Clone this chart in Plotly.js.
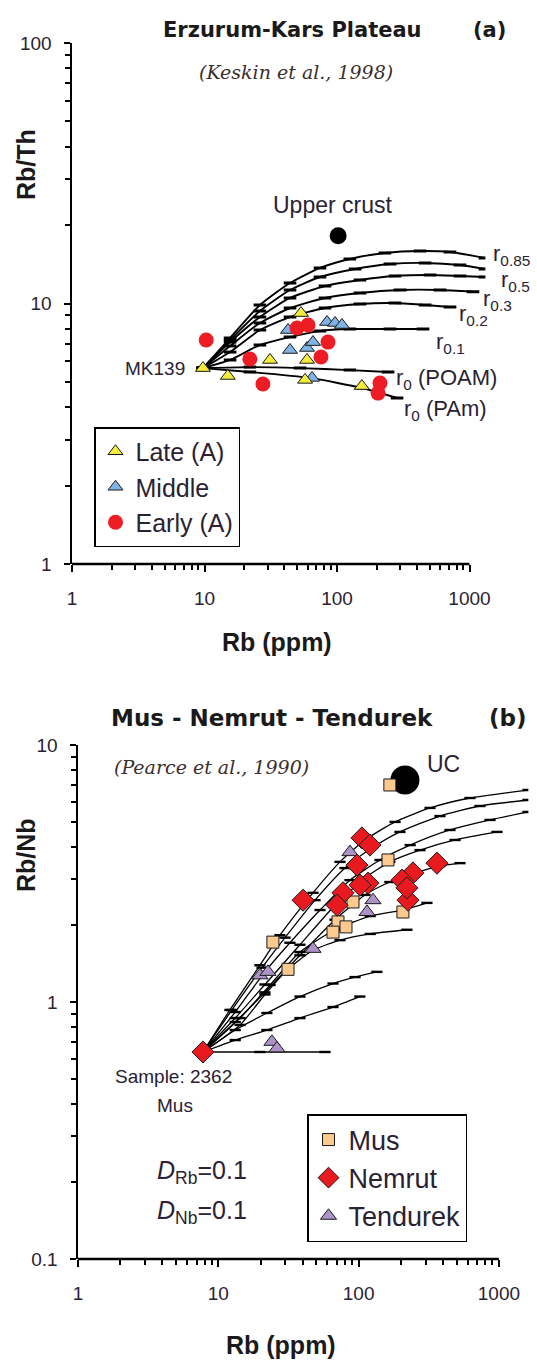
<!DOCTYPE html>
<html>
<head>
<meta charset="utf-8">
<script src="https://cdn.plot.ly/plotly-3.0.1.min.js"></script>
<style>html,body{margin:0;padding:0;background:#fff}#chart{width:537px;height:1362px}</style>
</head>
<body>
<div id="chart"></div>
<script>
// ---------- Panel (a): Erzurum-Kars Plateau (Rb vs Rb/Th) ----------
const lateRb    = [9.74, 15.0, 31.2, 53.5, 59.4, 57.4, 154];
const lateRbTh  = [5.65, 5.27, 6.07, 9.19, 6.07, 5.09, 4.82];
const middleRb   = [44.2, 59.4, 65.9, 84.1, 96.6, 109, 64.8, 42.7];
const middleRbTh = [6.63, 6.75, 7.11, 8.49, 8.42, 8.27, 5.18, 7.91];
const earlyRb   = [10.3, 22.0, 27.6, 49.9, 60.4, 85.5, 75.7, 211, 204];
const earlyRbTh = [7.24, 6.12, 4.91, 8.05, 8.27, 7.11, 6.23, 4.95, 4.53];
const upperCrustRb = [102];
const upperCrustRbTh = [18.2];

// AFC model curves from MK139
const r085Rb   = [9.74, 15.6, 26.2, 44.2, 74.4, 125, 230, 423, 713, 1309];
const r085RbTh = [5.65, 7.37, 9.87, 11.99, 13.69, 14.82, 15.63, 15.91, 15.77, 14.95];
const rMidRb   = [9.74, 15.6, 26.2, 44.2, 74.4, 137, 251, 462, 848, 1309];
const rMidRbTh = [5.65, 7.24, 9.36, 11.27, 12.64, 13.57, 14.18, 14.31, 14.05, 13.57];
const r05Rb    = [9.74, 15.6, 26.2, 44.2, 81.2, 149, 274, 504, 848, 1309];
const r05RbTh  = [5.65, 7.11, 8.87, 10.50, 11.67, 12.31, 12.75, 12.86, 12.75, 12.64];
const r03Rb    = [9.74, 15.6, 26.2, 44.2, 81.2, 149, 299, 599, 1063];
const r03RbTh  = [5.65, 6.87, 8.42, 9.61, 10.50, 10.97, 11.27, 11.27, 11.1];
const r02Rb    = [9.74, 15.6, 26.2, 44.2, 81.2, 149, 274, 462, 713];
const r02RbTh  = [5.65, 6.51, 7.91, 8.87, 9.61, 9.96, 10.04, 9.87, 9.70];
const r01Rb    = [9.74, 15.6, 26.2, 44.2, 74.4, 125, 251, 446];
const r01RbTh  = [5.65, 6.07, 6.93, 7.43, 7.84, 7.98, 7.98, 7.98];
const r0POAMRb   = [9.74, 22.0, 52.6, 125, 243];
const r0POAMRbTh = [5.65, 5.70, 5.65, 5.55, 5.46];
const r0PAmRb    = [9.74, 22.0, 62.5, 154, 284];
const r0PAmRbTh  = [5.65, 5.46, 5.18, 4.74, 4.34];

// ---------- Panel (b): Mus - Nemrut - Tendurek (Rb vs Rb/Nb) ----------
const musRb   = [167, 162, 91.2, 207, 71.3, 81.3, 65.7, 24.5, 31.4];
const musRbNb = [6.99, 3.57, 2.45, 2.24, 2.05, 1.96, 1.87, 1.71, 1.34];
const nemrutRb   = [105.7, 120.6, 97.4, 116.7, 102.3, 244, 204, 362, 225, 221, 40.2, 77.4, 70.2];
const nemrutRbNb = [4.35, 4.08, 3.41, 2.90, 2.85, 3.18, 2.98, 3.47, 2.49, 2.78, 2.49, 2.66, 2.38];
const tendurekRb   = [86.8, 126.6, 114.8, 47.3, 19.8, 22.6, 24.1, 26.2];
const tendurekRbNb = [3.83, 2.49, 2.24, 1.61, 1.27, 1.31, 0.70, 0.66];
const ucRb = [214];
const ucRbNb = [7.31];
const sampleRb = [7.78];
const sampleRbNb = [0.639];

const c1Rb   = [7.78, 12.1, 19.8, 27.5, 47.3, 73.7, 111, 182, 323, 622, 1612];
const c1RbNb = [0.639, 0.931, 1.39, 1.82, 2.66, 3.51, 4.27, 5.02, 5.69, 6.22, 6.68];
const c2Rb   = [7.78, 12.5, 20.5, 29.9, 48.9, 80.0, 125, 197, 380, 733, 1612];
const c2RbNb = [0.639, 0.931, 1.36, 1.78, 2.49, 3.32, 3.98, 4.59, 5.29, 5.79, 6.11];
const c3Rb   = [7.78, 13.2, 21.5, 32.4, 53.1, 86.8, 142, 233, 448, 864, 1612];
const c3RbNb = [0.639, 0.914, 1.31, 1.70, 2.28, 2.98, 3.57, 4.08, 4.67, 5.11, 5.49];
const c4Rb   = [7.78, 13.2, 21.5, 38.2, 67.9, 111, 167, 274, 487, 969];
const c4RbNb = [0.639, 0.866, 1.17, 1.67, 2.38, 3.04, 3.51, 3.90, 4.27, 4.59];
const c5Rb   = [7.78, 13.2, 21.5, 38.2, 67.9, 111, 167, 252, 380, 528];
const c5RbNb = [0.639, 0.836, 1.09, 1.52, 2.09, 2.61, 2.93, 3.18, 3.38, 3.47];
const c6Rb   = [7.78, 14.3, 23.4, 38.2, 67.9, 121, 207, 307];
const c6RbNb = [0.639, 0.866, 1.165, 1.565, 1.91, 2.16, 2.28, 2.43];
const c7Rb   = [7.78, 14.3, 21.5, 31.4, 47.3, 73.7, 121, 221];
const c7RbNb = [0.639, 0.814, 1.07, 1.34, 1.59, 1.74, 1.84, 1.91];
const c8Rb   = [7.78, 13.2, 22.2, 38.2, 65.7, 94.3, 135];
const c8RbNb = [0.639, 0.778, 0.906, 1.05, 1.18, 1.25, 1.31];
const c9Rb   = [7.78, 13.2, 22.2, 38.2, 65.7, 102];
const c9RbNb = [0.639, 0.711, 0.778, 0.866, 0.956, 1.05];
const c10Rb   = [7.78, 19.8, 57.6];
const c10RbNb = [0.639, 0.639, 0.639];

const xTickVals = [1, 10, 100, 1000];
const xTickText = ['1', '10', '100', '1000'];
const yTickValsA = [1, 10, 100];
const yTickTextA = ['1', '10', '100'];
const yTickValsB = [0.1, 1, 10];
const yTickTextB = ['0.1', '1', '10'];

// ---------- layout helpers (pixel -> paper) ----------
const W = 537, H = 1362;
const px = v => v / W;
const py = v => 1 - v / H;
const minorVals = (decades) => { const a = []; decades.forEach(d => { for (let k = 2; k <= 9; k++) a.push(+(k * d).toPrecision(3)); }); return a; };

const TXT = '#2a2233';
const curvesA = [[r085Rb, r085RbTh], [rMidRb, rMidRbTh], [r05Rb, r05RbTh], [r03Rb, r03RbTh], [r02Rb, r02RbTh], [r01Rb, r01RbTh], [r0POAMRb, r0POAMRbTh], [r0PAmRb, r0PAmRbTh]];
const curvesB = [[c1Rb, c1RbNb], [c2Rb, c2RbNb], [c3Rb, c3RbNb], [c4Rb, c4RbNb], [c5Rb, c5RbNb], [c6Rb, c6RbNb], [c7Rb, c7RbNb], [c8Rb, c8RbNb], [c9Rb, c9RbNb], [c10Rb, c10RbNb]];

const traces = [];
curvesA.forEach(c => traces.push({
  x: c[0], y: c[1], xaxis: 'x', yaxis: 'y', type: 'scatter', mode: 'lines+markers',
  line: {color: 'black', width: 1.9, shape: 'spline', smoothing: 0.6},
  marker: {symbol: 'line-ew', size: 9, line: {color: 'black', width: 3}},
  showlegend: false, hoverinfo: 'skip'
}));
curvesB.forEach(c => traces.push({
  x: c[0], y: c[1], xaxis: 'x2', yaxis: 'y2', type: 'scatter', mode: 'lines+markers',
  line: {color: 'black', width: 1.3, shape: 'spline', smoothing: 0.6},
  marker: {symbol: 'line-ew', size: 8, line: {color: 'black', width: 2.4}},
  showlegend: false, hoverinfo: 'skip'
}));

traces.push({x: middleRb, y: middleRbTh, name: 'Middle', xaxis: 'x', yaxis: 'y', type: 'scatter', mode: 'markers',
  marker: {symbol: 'triangle-up', size: 13, color: '#7fb3e3', line: {color: '#1a1a1a', width: 1}},
  legend: 'legend', legendrank: 2, legendgroup: 'm'});
traces.push({x: lateRb, y: lateRbTh, name: 'Late (A)', xaxis: 'x', yaxis: 'y', type: 'scatter', mode: 'markers',
  marker: {symbol: 'triangle-up', size: 13, color: '#f4ec3a', line: {color: '#1a1a1a', width: 1}},
  legend: 'legend', legendrank: 1, legendgroup: 'l'});
traces.push({x: earlyRb, y: earlyRbTh, name: 'Early (A)', xaxis: 'x', yaxis: 'y', type: 'scatter', mode: 'markers',
  marker: {symbol: 'circle', size: 15, color: '#ee1c24', line: {width: 0}},
  legend: 'legend', legendrank: 3, legendgroup: 'e'});
traces.push({x: upperCrustRb, y: upperCrustRbTh, name: 'Upper crust', xaxis: 'x', yaxis: 'y', type: 'scatter', mode: 'markers',
  marker: {symbol: 'circle', size: 17, color: 'black'}, showlegend: false});

traces.push({x: ucRb, y: ucRbNb, name: 'UC', xaxis: 'x2', yaxis: 'y2', type: 'scatter', mode: 'markers',
  marker: {symbol: 'circle', size: 29, color: 'black'}, showlegend: false});
traces.push({x: musRb, y: musRbNb, name: 'Mus', xaxis: 'x2', yaxis: 'y2', type: 'scatter', mode: 'markers',
  marker: {symbol: 'square', size: 12, color: '#fcc98f', line: {color: '#1a1a1a', width: 1}},
  legend: 'legend2', legendrank: 1, legendgroup: 'mus'});
traces.push({x: tendurekRb, y: tendurekRbNb, name: 'Tendurek', xaxis: 'x2', yaxis: 'y2', type: 'scatter', mode: 'markers',
  marker: {symbol: 'triangle-up', size: 14, color: '#ad92c8', line: {color: '#1a1a1a', width: 1}},
  legend: 'legend2', legendrank: 3, legendgroup: 'ten'});
traces.push({x: nemrutRb, y: nemrutRbNb, name: 'Nemrut', xaxis: 'x2', yaxis: 'y2', type: 'scatter', mode: 'markers',
  marker: {symbol: 'diamond', size: 17, color: '#e8191f', line: {color: '#1a1a1a', width: 1}},
  legend: 'legend2', legendrank: 2, legendgroup: 'nem'});
traces.push({x: sampleRb, y: sampleRbNb, name: 'Sample 2362', xaxis: 'x2', yaxis: 'y2', type: 'scatter', mode: 'markers',
  marker: {symbol: 'diamond', size: 17, color: '#e8191f', line: {color: '#1a1a1a', width: 1}}, showlegend: false});

const tickFont = {family: 'Liberation Sans, Arial, sans-serif', size: 19, color: TXT};
function xAxis(domain, rangeMax) {
  return {type: 'log', domain: domain, range: [0, rangeMax], showgrid: false, zeroline: false, showline: false,
    tickmode: 'array', tickvals: xTickVals, ticktext: xTickText, ticks: 'outside', ticklen: 7, tickwidth: 2, tickcolor: 'black',
    tickfont: tickFont, ticklabelstandoff: 10,
    minor: {tickvals: minorVals([1, 10, 100]), ticks: 'outside', ticklen: 5, tickwidth: 2, tickcolor: 'black', showgrid: false}};
}
function yAxis(domain, range, vals, text, minorDec) {
  return {type: 'log', domain: domain, range: range, showgrid: false, zeroline: false, showline: true, linecolor: 'black', linewidth: 2.5,
    tickmode: 'array', tickvals: vals, ticktext: text, ticks: 'outside', ticklen: 6, tickwidth: 2, tickcolor: 'black',
    tickfont: tickFont, ticklabelstandoff: 8,
    minor: {tickvals: minorVals(minorDec), ticks: 'outside', ticklen: 5, tickwidth: 2, tickcolor: 'black', showgrid: false}};
}

const ann = (text, x, y, o) => Object.assign({text: text, x: px(x), y: py(y), xref: 'paper', yref: 'paper', showarrow: false,
  xanchor: 'center', yanchor: 'middle', font: {family: 'Liberation Sans, Arial, sans-serif', size: 20, color: TXT}}, o || {});
const boldA = {family: 'DejaVu Sans, Verdana, sans-serif', size: 21, color: '#1a1a1a'};
const boldB = {family: 'DejaVu Sans, Verdana, sans-serif', size: 23, color: '#1a1a1a'};
const axTitle = {family: 'Liberation Sans, Arial, sans-serif', size: 25, color: '#1a1a1a'};
const cite = {family: 'DejaVu Serif, Liberation Serif, serif', size: 19, color: '#3a2e2e'};
const rl = {family: 'Liberation Sans, Arial, sans-serif', size: 22, color: TXT};

const annotations = [
  ann('<b>Erzurum-Kars Plateau</b>', 292, 30, {font: boldA}),
  ann('<b>(a)</b>', 489, 30, {font: boldA}),
  ann('<i>(Keskin et al., 1998)</i>', 296, 72, {font: cite}),
  ann('Upper crust', 332, 205, {font: {family: 'Liberation Sans, Arial, sans-serif', size: 23, color: TXT}}),
  ann('MK139', 187, 368, {xanchor: 'right', font: {family: 'Liberation Sans, Arial, sans-serif', size: 19, color: TXT}}),
  ann('r<sub>0.85</sub>', 491, 255, {xanchor: 'left', font: rl}),
  ann('r<sub>0.5</sub>', 499, 281, {xanchor: 'left', font: rl}),
  ann('r<sub>0.3</sub>', 481, 300, {xanchor: 'left', font: rl}),
  ann('r<sub>0.2</sub>', 457, 315, {xanchor: 'left', font: rl}),
  ann('r<sub>0.1</sub>', 434, 343, {xanchor: 'left', font: rl}),
  ann('r<sub>0</sub> (POAM)', 394, 379, {xanchor: 'left', font: rl}),
  ann('r<sub>0</sub> (PAm)', 402, 410, {xanchor: 'left', font: rl}),
  ann('<b>Rb/Th</b>', 26, 165, {textangle: -90, font: axTitle}),
  ann('<b>Rb (ppm)</b>', 277, 642, {font: axTitle}),

  ann('<b>Mus - Nemrut - Tendurek</b>', 272, 718, {font: boldB}),
  ann('<b>(b)</b>', 508, 718, {font: boldB}),
  ann('<i>(Pearce et al., 1990)</i>', 211, 767, {font: cite}),
  ann('UC', 425, 764, {xanchor: 'left', font: {family: 'Liberation Sans, Arial, sans-serif', size: 23, color: TXT}}),
  ann('<b>Rb/Nb</b>', 26, 855, {textangle: -90, font: axTitle}),
  ann('Sample: 2362', 173, 1076, {font: {family: 'Liberation Sans, Arial, sans-serif', size: 19, color: TXT}}),
  ann('Mus', 175, 1105, {font: {family: 'Liberation Sans, Arial, sans-serif', size: 19, color: TXT}}),
  ann('<i>D</i><sub>Rb</sub>=0.1', 202, 1172, {font: {family: 'Liberation Sans, Arial, sans-serif', size: 25, color: TXT}}),
  ann('<i>D</i><sub>Nb</sub>=0.1', 202, 1212, {font: {family: 'Liberation Sans, Arial, sans-serif', size: 25, color: TXT}}),
  ann('<b>Rb (ppm)</b>', 281, 1345, {font: axTitle})
];

const layout = {
  width: W, height: H, margin: {l: 0, r: 0, t: 0, b: 0},
  paper_bgcolor: 'white', plot_bgcolor: 'rgba(0,0,0,0)',
  xaxis: Object.assign(xAxis([px(72), px(72 + 3.12 * 132.5)], 3.12), {anchor: 'y'}),
  yaxis: Object.assign(yAxis([py(564), py(43)], [0, 2], yTickValsA, yTickTextA, [1, 10]), {anchor: 'x'}),
  xaxis2: Object.assign(xAxis([px(78), px(78 + 3.21 * 140.3)], 3.21), {anchor: 'y2'}),
  yaxis2: Object.assign(yAxis([py(1259), py(745)], [-1, 1], yTickValsB, yTickTextB, [0.1, 1]), {anchor: 'x2'}),
  shapes: [
    {type: 'line', xref: 'x domain', yref: 'y domain', x0: 0, x1: 3 / 3.12, y0: 0, y1: 0, line: {color: 'black', width: 2.5}},
    {type: 'line', xref: 'x2 domain', yref: 'y2 domain', x0: 0, x1: 3 / 3.21, y0: 0, y1: 0, line: {color: 'black', width: 2.5}}
  ],
  legend: {x: px(94), y: py(427), xanchor: 'left', yanchor: 'top', bgcolor: 'white', bordercolor: 'black', borderwidth: 1.5,
    font: {family: 'Liberation Sans, Arial, sans-serif', size: 25, color: TXT}, tracegroupgap: 6, itemwidth: 30, traceorder: 'normal'},
  legend2: {x: px(307), y: py(1114), xanchor: 'left', yanchor: 'top', bgcolor: 'white', bordercolor: 'black', borderwidth: 1.5,
    font: {family: 'Liberation Sans, Arial, sans-serif', size: 27, color: TXT}, tracegroupgap: 3, itemwidth: 30, traceorder: 'normal'},
  annotations: annotations,
  showlegend: true
};

Plotly.newPlot('chart', traces, layout, {displayModeBar: false, staticPlot: true});
</script>
</body>
</html>
